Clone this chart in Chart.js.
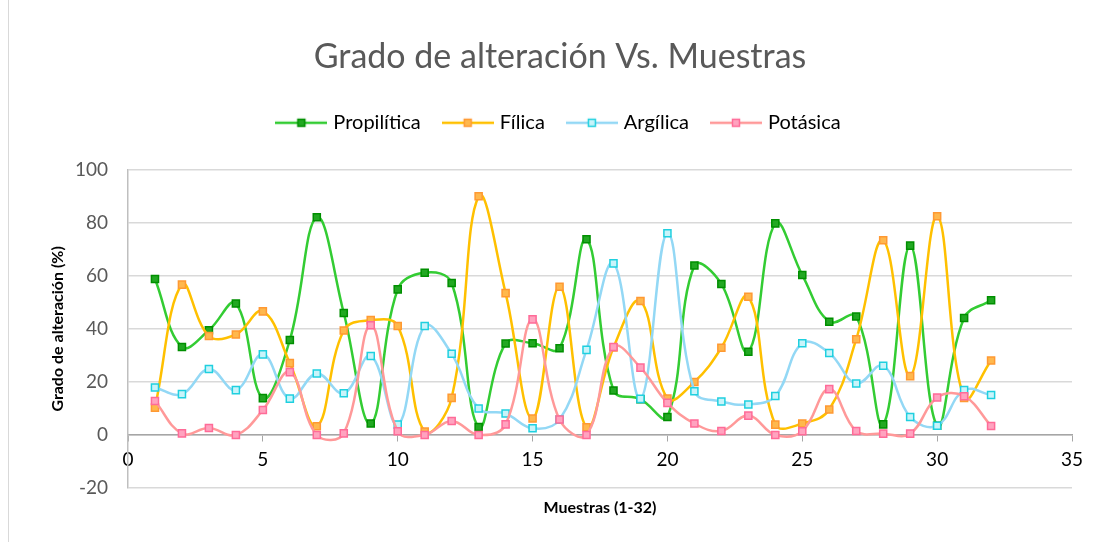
<!DOCTYPE html>
<html>
<head>
<meta charset="utf-8">
<script src="https://cdn.jsdelivr.net/npm/chart.js@4.4.1/dist/chart.umd.min.js"></script>
<style>
    body { margin: 0; background: #fff; }
    #box { position: relative; width: 1098px; height: 542px; }
    #borde { position: absolute; left: 8px; top: 0; bottom: 0; border-left: 1px solid #d9d9d9; }
</style>
</head>
<body>
<div id="box">
    <div id="borde"></div>
    <canvas id="grafico-alteracion"></canvas>
</div>
<script>
// ------------- DATOS ----------------//
var muestras = [1, 2, 3, 4, 5, 6, 7, 8, 9, 10, 11, 12, 13, 14, 15, 16, 17, 18, 19, 20, 21, 22, 23, 24, 25, 26, 27, 28, 29, 30, 31, 32];
var propilitica = [58.8, 33.2, 39.5, 49.6, 13.9, 35.8, 82.1, 46, 4.3, 54.9, 61.2, 57.3, 3.0, 34.5, 34.6, 32.7, 73.8, 16.8, 13.5, 6.8, 63.9, 56.9, 31.4, 79.8, 60.3, 42.7, 44.7, 4.0, 71.4, 3.5, 44.1, 50.8];
var filica = [10.3, 56.7, 37.3, 37.9, 46.6, 27.1, 3.3, 39.4, 43.3, 41.1, 1.3, 14, 90, 53.5, 6.2, 55.9, 2.9, 33, 50.5, 13.7, 20, 32.9, 52.1, 3.9, 4.3, 9.6, 36.1, 73.4, 22.2, 82.5, 14, 28.1];
var argilica = [17.9, 15.4, 24.9, 16.9, 30.4, 13.7, 23.2, 15.7, 29.8, 3.9, 41.1, 30.6, 10, 8.1, 2.5, 5.8, 32.1, 64.7, 13.6, 76.1, 16.5, 12.6, 11.5, 14.7, 34.6, 30.9, 19.4, 26.1, 6.8, 3.5, 16.9, 15.1];
var potasica = [12.8, 0.6, 2.6, 0, 9.4, 23.7, 0, 0.6, 41.4, 1.4, 0, 5.3, 0, 4, 43.6, 5.8, 0, 33.2, 25.4, 12.1, 4.3, 1.5, 7.3, 0, 1.4, 17.3, 1.5, 0.5, 0.5, 14.1, 14.6, 3.4];
var ticksY = [-20, 0, 20, 40, 60, 80, 100];
var ticksX = [0, 5, 10, 15, 20, 25, 30, 35];

var fuente = 'Lato, "Open Sans", sans-serif';

function puntos(valores) {
    return muestras.map(function (m, i) { return { x: m, y: valores[i] }; });
}

// icono de la leyenda: linea con el cuadrado en el centro
function iconoLeyenda(colorLinea, colorBorde, colorRelleno) {
    var c = document.createElement('canvas');
    c.width = 52;
    c.height = 12;
    var g = c.getContext('2d');
    g.strokeStyle = colorLinea;
    g.lineWidth = 2.5;
    g.beginPath();
    g.moveTo(0, 6);
    g.lineTo(52, 6);
    g.stroke();
    g.fillStyle = colorRelleno;
    g.strokeStyle = colorBorde;
    g.lineWidth = 1.5;
    g.fillRect(22.5, 2.5, 7, 7);
    g.strokeRect(22.5, 2.5, 7, 7);
    return c;
}

function serie(nombre, valores, linea, borde, relleno, orden) {
    return {
        label: nombre,
        data: puntos(valores),
        borderColor: linea,
        backgroundColor: linea,
        borderWidth: 2.5,
        pointStyle: 'rect',
        pointRadius: 5,
        pointBorderWidth: 1.5,
        pointBorderColor: borde,
        pointBackgroundColor: relleno,
        tension: 0.4,
        order: orden,
        icono: iconoLeyenda(linea, borde, relleno)
    };
}

// espacio extra entre leyenda y area del grafico
var espacioLeyenda = {
    id: 'espacioLeyenda',
    beforeLayout: function (chart) {
        var lg = chart.legend;
        if (lg && !lg._parcheado) {
            var fitOriginal = lg.fit.bind(lg);
            lg.fit = function () {
                fitOriginal();
                this.height += 27;
            };
            lg._parcheado = true;
        }
    }
};

// ------------- GRAFICO ----------------//
var ctx = document.getElementById('grafico-alteracion');
var chart = new Chart(ctx, {
    type: 'line',
    data: {
        datasets: [
            serie('Propilítica', propilitica, '#33cc33', '#008f00', '#22a822', 3),
            serie('Fílica', filica, '#ffc000', '#ff9933', '#ffb84d', 2),
            serie('Argílica', argilica, '#93d8f5', '#1fd0df', '#c8f4fa', 1),
            serie('Potásica', potasica, '#ff9999', '#ff6b98', '#ffa3bf', 0)
        ]
    },
    options: {
        responsive: true,
        maintainAspectRatio: false,
        animation: false,
        layout: { padding: { left: 48, right: 26, top: 0, bottom: 0 } },
        plugins: {
            title: {
                display: true,
                text: 'Grado de alteración Vs. Muestras',
                color: '#595959',
                font: { family: fuente, size: 34, weight: 'normal' },
                padding: { top: 37, bottom: 10 }
            },
            legend: {
                display: true,
                labels: {
                    usePointStyle: true,
                    pointStyleWidth: 44,
                    padding: 25,
                    color: '#000',
                    font: { family: fuente, size: 20 },
                    sort: function (a, b) { return a.datasetIndex - b.datasetIndex; },
                    generateLabels: function (chart) {
                        var items = Chart.defaults.plugins.legend.labels.generateLabels(chart);
                        items.forEach(function (it) {
                            it.pointStyle = chart.data.datasets[it.datasetIndex].icono;
                        });
                        return items;
                    }
                }
            },
            tooltip: { enabled: false }
        },
        scales: {
            x: {
                type: 'linear',
                min: 0,
                max: 35,
                position: { y: 0 },
                afterBuildTicks: function (scale) {
                    scale.ticks = ticksX.map(function (v) { return { value: v }; });
                },
                grid: { drawOnChartArea: false, drawTicks: true, tickLength: 6, color: '#a6a6a6' },
                border: { display: true, color: '#a6a6a6', width: 1.5 },
                ticks: { color: '#000', font: { family: fuente, size: 19 }, padding: 8, maxRotation: 0 }
            },
            xTitulo: {
                type: 'linear',
                position: 'bottom',
                axis: 'x',
                display: true,
                grid: { display: false },
                border: { display: false },
                ticks: { display: false },
                title: {
                    display: true,
                    text: 'Muestras (1-32)',
                    color: '#000',
                    font: { family: fuente, size: 16, weight: 'bold' },
                    padding: { top: 0, bottom: 25 }
                },
                afterFit: function (scale) { scale.height = 54; }
            },
            y: {
                min: -20,
                max: 100,
                afterBuildTicks: function (scale) {
                    scale.ticks = ticksY.map(function (v) { return { value: v }; });
                },
                grid: { color: '#d9d9d9', lineWidth: 1.5, drawTicks: false },
                border: { display: true, color: '#bfbfbf', width: 1.5 },
                ticks: { color: '#595959', font: { family: fuente, size: 19 }, padding: 20 },
                title: {
                    display: true,
                    text: 'Grado de alteración (%)',
                    color: '#000',
                    font: { family: fuente, size: 16, weight: 'bold' },
                    padding: { top: 0, bottom: 0 }
                },
                afterFit: function (scale) { scale.width = 80; }
            }
        }
    },
    plugins: [espacioLeyenda]
});
</script>
</body>
</html>
